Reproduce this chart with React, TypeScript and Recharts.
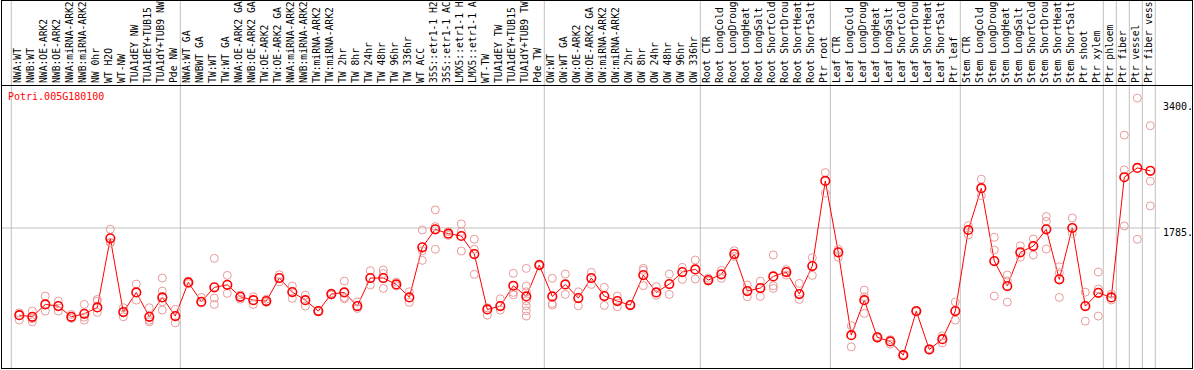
import React from 'react';
import {
  ComposedChart,
  Line,
  Scatter,
  XAxis,
  YAxis,
  ReferenceLine,
} from 'recharts';

const geneId = 'Potri.005G180100';

const samples = [
  'NWA:WT', 'NWB:WT', 'NWA:OE-ARK2', 'NWB:OE-ARK2', 'NWA:miRNA-ARK2', 'NWB:miRNA-ARK2',
  'NW 0hr', 'WT H2O', 'WT-NW', 'TUA1dEY NW', 'TUA1dEY+TUB15 NW', 'TUA1dY+TUB9 NW', 'Pde NW',
  'NWA:WT GA', 'NWBWT GA', 'TW:WT', 'TW:WT GA', 'NWA:OE-ARK2 GA', 'NWB:OE-ARK2 GA',
  'TW:OE-ARK2', 'TW:OE-ARK2 GA', 'NWA:miRNA-ARK2', 'NWB:miRNA-ARK2', 'TW:miRNA-ARK2',
  'TW:miRNA-ARK2', 'TW 2hr', 'TW 8hr', 'TW 24hr', 'TW 48hr', 'TW 96hr', 'TW 336hr', 'WT ACC',
  '35S::etr1-1 H2O', '35S::etr1-1 ACC', 'LMX5::etr1-1 H2O', 'LMX5::etr1-1 ACC', 'WT-TW',
  'TUA1dEY TW', 'TUA1dEY+TUB15 TW', 'TUA1dY+TUB9 TW', 'Pde TW',
  'OW:WT', 'OW:WT GA', 'OW:OE-ARK2', 'OW:OE-ARK2 GA', 'OW:miRNA-ARK2', 'OW:miRNA-ARK2',
  'OW 2hr', 'OW 8hr', 'OW 24hr', 'OW 48hr', 'OW 96hr', 'OW 336hr',
  'Root CTR', 'Root LongCold', 'Root LongDrought', 'Root LongHeat', 'Root LongSalt',
  'Root ShortCold', 'Root ShortDrought', 'Root ShortHeat', 'Root ShortSalt', 'Ptr root',
  'Leaf CTR', 'Leaf LongCold', 'Leaf LongDrought', 'Leaf LongHeat', 'Leaf LongSalt',
  'Leaf ShortCold', 'Leaf ShortDrought', 'Leaf ShortHeat', 'Leaf ShortSalt', 'Ptr leaf',
  'Stem CTR', 'Stem LongCold', 'Stem LongDrought', 'Stem LongHeat', 'Stem LongSalt',
  'Stem ShortCold', 'Stem ShortDrought', 'Stem ShortHeat', 'Stem ShortSalt', 'Ptr shoot',
  'Ptr xylem', 'Ptr phloem', 'Ptr fiber', 'Ptr vessel', 'Ptr fiber vessel',
];

const means = [
  665, 644, 803, 781, 644, 682, 764, 1652, 704, 957, 644, 893, 653,
  1086, 837, 1022, 1055, 901, 858, 846, 1142, 961, 858, 717, 936, 957, 781, 1142, 1142,
  1060, 893, 1537, 1768, 1712, 1682, 1450, 739, 781, 1043, 906, 1309,
  906, 1060, 884, 1142, 910, 846, 794, 1180, 957, 1064, 1219, 1253,
  1116, 1189, 1450, 974, 1013, 1163, 1219, 936, 1296, 2390,
  1472, 408, 858, 380, 327, 151, 717, 224, 356, 717,
  1759, 2296, 1360, 1039, 1472, 1553, 1768, 1125, 1785, 781, 952,
  893, 2437, 2557, 2519,
];

const replicates = [
  [695, 601], [717, 579, 620], [910, 717], [846, 717], [674, 623], [803, 601, 640],
  [867, 845, 700], [1768, 1596, 1600], [760, 644], [1064, 858], [760, 579, 600],
  [1142, 974, 837, 730], [739, 566],
  [1100, 1070], [893, 820], [1395, 884, 803], [1176, 945], [925, 870], [901, 803],
  [870, 830], [1184, 1094], [1039, 880], [923, 781], [720, 710], [950, 925],
  [1103, 893, 875], [837, 751], [1236, 1052], [1245, 1200, 1009], [1090, 1040],
  [965, 829], [1759, 1493, 1369], [2017, 1802, 1511], [1738, 1690], [1837, 1740, 1489],
  [1640, 1511, 1189], [760, 665], [875, 730], [1202, 957, 925],
  [1266, 1039, 965, 850, 785, 721, 653], [1320, 1300],
  [1138, 794, 815], [1193, 932], [965, 785], [1215, 1060], [1022, 790], [910, 772],
  [800, 790], [1266, 1240, 1043], [1030, 920], [1193, 932], [1279, 1125], [1373, 1129],
  [1140, 1100], [1240, 1138], [1493, 1420], [1052, 901], [1103, 906], [1438, 1043, 1009],
  [1250, 1180], [1073, 867], [1403, 1176], [2497, 2232],
  [1511, 1408], [528, 257], [987, 900, 687], [390, 370], [350, 292], [160, 145],
  [720, 710], [235, 215], [399, 309], [833, 601],
  [1815, 1695], [2412, 2201], [1665, 1502, 910], [1180, 1105, 833], [1557, 1408],
  [1644, 1438], [1931, 1870, 1515], [1287, 1210, 893], [1914, 1717], [961, 588],
  [1219, 1000, 653], [935, 860], [2978, 2532, 1811], [3454, 1640], [3098, 2386, 2068],
];

// last sample index of each group (separator drawn just after it)
const groupEnds = [-1, 12, 40, 52, 62, 72, 83, 84, 85, 86, 87];
const yTicks = [0, 1785, 3400];

const mainData = samples.map((name, i) => ({ idx: i, name, mean: means[i] }));
const repData = replicates.flatMap((vals, i) => vals.map((v) => ({ idx: i, value: v })));
const tickIdx = samples.map((_, i) => i);

const MONO = '"DejaVu Sans Mono", "Liberation Mono", monospace';
const LABEL_CHARS = 14; // header column only fits this many characters

const SampleTick = ({ x, payload }: any) => {
  const tx = x + 1.5;
  const ty = 83;
  return (
    <text
      x={tx}
      y={ty}
      transform={`rotate(-90, ${tx}, ${ty})`}
      textAnchor="start"
      fontFamily={MONO}
      fontSize={9.7}
      fill="#000"
    >
      {samples[payload.value].slice(0, LABEL_CHARS)}
    </text>
  );
};

const ValueTick = ({ x, y, payload }: any) => {
  const ty = Math.min(y + 1, 358);
  return (
    <text x={x} y={ty} dominantBaseline="hanging" fontFamily={MONO} fontSize={10} fill="#000">
      {payload.value === 0 ? '0' : `${payload.value}.`}
    </text>
  );
};

const MeanDot = (p: any) => (
  <circle key={`m${p.index}`} cx={p.cx} cy={p.cy} r={4.3} fill="none" stroke="#ff0000" strokeWidth={1.6} />
);

const RepDot = (p: any) => (
  <circle cx={p.cx} cy={p.cy} r={4} fill="none" stroke="#e89a9a" strokeWidth={1} />
);

export default function App() {
  return (
    <div style={{ position: 'absolute', left: 0, top: 0, width: 1194, height: 370, background: '#fff' }}>
      <ComposedChart
        width={1194}
        height={370}
        data={mainData}
        margin={{ top: 0, right: 2, bottom: 2, left: 1 }}
      >
        <XAxis
          dataKey="idx"
          type="number"
          orientation="top"
          mirror
          domain={[-1.408, 87.746]}
          allowDataOverflow
          ticks={tickIdx}
          interval={0}
          axisLine={false}
          tickLine={false}
          tick={<SampleTick />}
        />
        <YAxis
          orientation="right"
          type="number"
          domain={[-14, 4714]}
          allowDataOverflow
          ticks={yTicks}
          width={32}
          axisLine={false}
          tickLine={false}
          tickSize={0}
          tickMargin={3}
          tick={<ValueTick />}
        />
        <ReferenceLine y={1785} stroke="#c0c0c0" strokeWidth={1} />
        {groupEnds.map((e) => (
          <ReferenceLine key={e} x={e + 0.385} stroke="#c0c0c0" strokeWidth={1} />
        ))}
        <Scatter data={repData} dataKey="value" isAnimationActive={false} shape={<RepDot />} />
        <Line
          dataKey="mean"
          stroke="#ff0000"
          strokeWidth={1}
          dot={MeanDot}
          activeDot={false}
          isAnimationActive={false}
        />
      </ComposedChart>
      <div
        style={{
          position: 'absolute', left: 8, top: 92, fontFamily: MONO, fontSize: 10,
          color: '#ff0000', lineHeight: '10px',
        }}
      >
        {geneId}
      </div>
      <div style={{ position: 'absolute', left: 1, top: 85, width: 1192, height: 1, background: '#000' }} />
      <div
        style={{
          position: 'absolute', left: 1, top: 0, width: 1192, height: 369,
          border: '1px solid #000', boxSizing: 'border-box', pointerEvents: 'none',
        }}
      />
    </div>
  );
}
